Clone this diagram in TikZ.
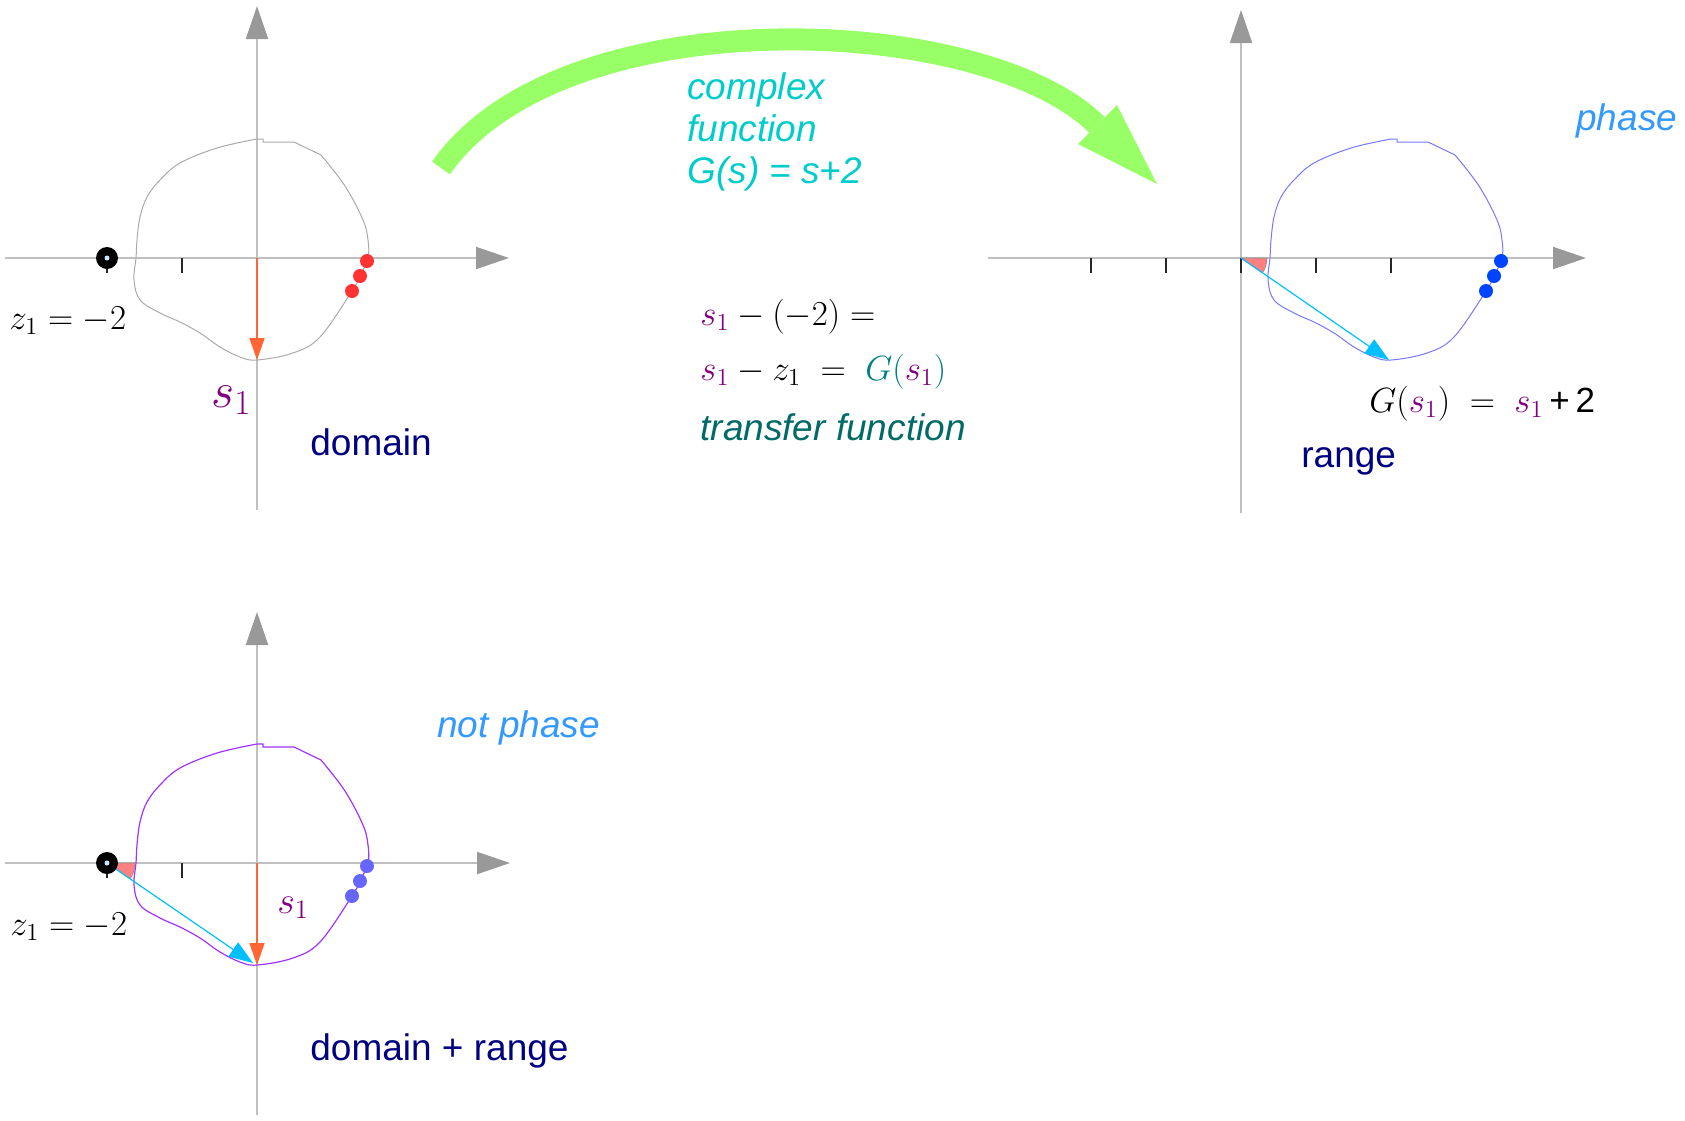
\RequirePackage{fix-cm}
\documentclass[tikz,border=0pt]{standalone}
\usepackage[no-math]{fontspec}
\setsansfont{Liberation Sans}
\usepackage{amsmath}
\usepackage{tikz}
\usetikzlibrary{arrows.meta}
\definecolor{axgray}{HTML}{C0C0C0}
\definecolor{axhead}{HTML}{999999}
\definecolor{navytxt}{HTML}{000080}
\definecolor{spurple}{HTML}{800080}
\definecolor{phaseblue}{HTML}{3399FF}
\definecolor{fncyan}{HTML}{00CCCC}
\definecolor{tfteal}{HTML}{006B66}
\definecolor{gteal}{HTML}{008080}
\definecolor{arrgreen}{HTML}{99FF66}
\definecolor{vecorange}{HTML}{FF6633}
\definecolor{vecblue}{HTML}{00BFFF}
\definecolor{wedgepink}{HTML}{FF8080}
\definecolor{dotred}{HTML}{FF3333}
\definecolor{dotblue}{HTML}{0044FF}
\definecolor{dotlilac}{HTML}{6666FF}
\definecolor{loopgray}{HTML}{AAAAAA}
\definecolor{loopblue}{HTML}{7777FF}
\definecolor{loopviolet}{HTML}{A033FF}
\definecolor{zcentre}{HTML}{CCE6FF}
\definecolor{ticktan}{HTML}{993300}

\newcommand{\sone}{{\color{spurple}s_1}}
% closed test contour, origin at the axis crossing, y pointing down
\newcommand{\blobpath}{plot[smooth, tension=0.6] coordinates {(64,-103) (88,-72)
  (106,-38) (111,-18) (111,0) (103,18) (95,33) (63,79) (36,95) (0,102) (-17,99)
  (-37,89) (-57,75) (-77,64) (-97,55) (-117,42) (-123,22) (-121,0) (-120,-18)
  (-117,-41) (-110,-61) (-97,-78) (-77,-95) (-40,-110) (0,-119)}
  -- (6,-119) -- (6,-116) -- (37,-116) -- cycle}

\begin{document}
\begin{tikzpicture}[
      x=0.5pt, y=-0.5pt,
      axis/.style={draw=axgray, line width=1pt,
                   -{Triangle[length=16.5pt, width=11pt, color=axhead]}},
      tickmark/.style={draw=black!85, line width=0.9pt},
      vecor/.style={draw=vecorange, line width=0.9pt,
                    -{Triangle[length=11pt, width=7.5pt]}},
      vecbl/.style={draw=vecblue, line width=0.6pt,
                    -{Triangle[length=12pt, width=8.5pt]}},
      wedge/.style={fill=wedgepink, draw=black!45, line width=0.3pt},
      lbl/.style={font=\sffamily\fontsize{18.5}{21}\selectfont,
                  inner sep=0pt, anchor=base west},
      lbli/.style={lbl, font=\sffamily\itshape\fontsize{18.5}{21}\selectfont},
      mth/.style={font=\fontsize{17.5}{20}\selectfont,
                  inner sep=0pt, anchor=base west},
    ]
    \useasboundingbox (0,0) rectangle (1685,1120);

    % domain
    \begin{scope}[shift={(257,258)}]
      \coordinate (o1) at (0,0);
      \coordinate (x1a) at (-252,0);  \coordinate (x1b) at (252,0);
      \coordinate (y1a) at (0,252);   \coordinate (y1b) at (0,-252);
      \draw[axis] (x1a) -- (x1b);
      \draw[axis] (y1a) -- (y1b);
      \foreach \tx in {-150,-75} \draw[tickmark] (\tx,0) -- (\tx,15);
      \draw[tickmark, draw=ticktan] (0,0) -- (0,15);
      \draw[draw=loopgray, line width=0.5pt] \blobpath;
      \coordinate (z1) at (-150,0);
      \coordinate (b1) at (0,102);
      \draw[vecor] (o1) -- (b1);
      \fill (z1) circle (11);
      \fill[zcentre] (z1) circle (2.5);
      \foreach \p in {(110,3),(103,18),(95,33)} \fill[dotred] \p circle (7);
      \node[mth] (z1lbl) at (-248,71) {$z_1 = -2$};
      \node[mth, font=\fontsize{25}{28}\selectfont] (s1lbl) at (-46,149) {$\sone$};
      \node[lbl, text=navytxt] (dom) at (53,197) {domain};
    \end{scope}

    % range
    \begin{scope}[shift={(1241,258)}]
      \coordinate (o2) at (0,0);
      \coordinate (x2a) at (-253,0);  \coordinate (x2b) at (345,0);
      \coordinate (y2a) at (0,255);   \coordinate (y2b) at (0,-248);
      \draw[axis] (x2a) -- (x2b);
      \draw[axis] (y2a) -- (y2b);
      \foreach \tx in {-150,-75,0,75,150} \draw[tickmark] (\tx,0) -- (\tx,15);
      \begin{scope}[shift={(150,0)}]
        \draw[draw=loopblue, line width=0.5pt] \blobpath;
        \foreach \p in {(110,3),(103,18),(95,33)} \fill[dotblue] \p circle (7);
      \end{scope}
      \filldraw[wedge] (o2) -- ++(26,0) arc[start angle=0, end angle=35, radius=26] -- cycle;
      \coordinate (b2) at (148,102);
      \draw[vecbl] (o2) -- (b2);
      \node[mth] (gs1) at (128,154)
        {$G(\sone) \;=\; \sone$\,\textsf{+\,2}};
      \node[lbl, text=navytxt] (rng) at (60,209) {range};
      \node[lbli, text=phaseblue] (ph) at (335,-128) {phase};
    \end{scope}

    % domain + range
    \begin{scope}[shift={(257,863)}]
      \coordinate (o3) at (0,0);
      \coordinate (x3a) at (-252,0);  \coordinate (x3b) at (253,0);
      \coordinate (y3a) at (0,252);   \coordinate (y3b) at (0,-251);
      \draw[axis] (x3a) -- (x3b);
      \draw[axis] (y3a) -- (y3b);
      \foreach \tx in {-150,-75} \draw[tickmark] (\tx,0) -- (\tx,15);
      \draw[tickmark, draw=ticktan] (0,0) -- (0,15);
      \draw[draw=loopviolet, line width=0.6pt] \blobpath;
      \coordinate (z3) at (-150,0);
      \coordinate (b3) at (0,102);
      \coordinate (c3) at (-4,100);
      \filldraw[wedge] (z3) -- ++(28,0) arc[start angle=0, end angle=34, radius=28] -- cycle;
      \draw[vecbl] (z3) -- (c3);
      \draw[vecor] (o3) -- (b3);
      \fill (z3) circle (11);
      \fill[zcentre] (z3) circle (2.5);
      \foreach \p in {(110,3),(103,18),(95,33)} \fill[dotlilac] \p circle (7);
      \node[mth] (z3lbl) at (-247,72) {$z_1 = -2$};
      \node[mth, font=\fontsize{19}{22}\selectfont] (s3lbl) at (20,50) {$\sone$};
      \node[lbli, text=phaseblue] (nph) at (180,-126) {not phase};
      \node[lbl, text=navytxt] (domrng) at (53,197) {domain + range};
    \end{scope}

    % mapping arrow and transfer function
    \coordinate (gstart) at (441,168);
    \coordinate (gend) at (1097,125);
    \draw[draw=arrgreen, line width=11pt] (gstart) .. controls (561,-4) and (984,12) .. (gend);
    \fill[arrgreen] (1078,144) -- (1157,184) -- (1117,105) -- cycle;
    \node[lbli, text=fncyan, align=left, anchor=north west] (cfun) at (687,72)
      {complex\\function\\G(s) = s+2};
    \node[mth] (eqa) at (700,325) {$\sone - (-2) =$};
    \node[mth] (eqb) at (700,380)
      {$\sone - z_1 \;=\; {\color{gteal}G(\sone)}$};
    \node[lbli, text=tfteal] (tf) at (700,440) {transfer function};

  \end{tikzpicture}
\end{document}
